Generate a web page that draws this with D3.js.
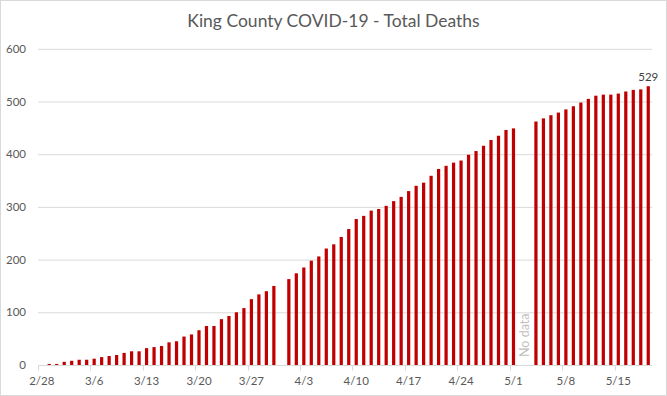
<!DOCTYPE html>
<html>
<head>
<meta charset="utf-8">
<script src="https://cdn.jsdelivr.net/npm/d3@7"></script>
<style>
  body { margin: 0; background: #fff; }
  svg { display: block; font-family: Lato, "Open Sans", sans-serif; }
</style>
</head>
<body>
<svg width="667" height="396"></svg>
<script>
// one bar per day, 2/28 .. 5/19 (2020)
var days = d3.timeDay.range(new Date(2020, 1, 28), new Date(2020, 4, 20));

// total deaths (null = no bar)
var deaths = [
  0, 2, 2, 6, 8, 10, 10, 12, 15, 17,
  19, 23, 26, 26, 32, 34, 36, 43, 45, 54,
  58, 66, 74, 74, 87, 93, 100, 108, 125, 134,
  140, 150, null, 163, 174, 185, 198, 206, 221, 229,
  243, 258, 277, 283, 293, 296, 302, 311, 319, 330,
  340, 346, 359, 372, 378, 384, 388, 399, 406, 416,
  427, 435, 446, 449, null, null, 462, 468, 474, 479,
  485, 491, 498, 505, 511, 513, 513, 515, 519, 522,
  523, 529
];

var tickLabels = ["2/28", "3/6", "3/13", "3/20", "3/27", "4/3", "4/10", "4/17", "4/24", "5/1", "5/8", "5/15"];
var yTicks = [0, 100, 200, 300, 400, 500, 600];

var fmt = d3.timeFormat("%-m/%-d");
var data = days.map(function(d, i) { return { key: fmt(d), value: deaths[i] }; });

var svg = d3.select("svg");
var grey = "#595959";
var pad = 0.57; // gap between bars

// chart border
svg.append("rect")
   .attr("x", 0.5).attr("y", 0.5)
   .attr("width", 666).attr("height", 395)
   .attr("fill", "#fff")
   .attr("stroke", "#d9d9d9");

svg.append("text")
   .attr("x", 333.5)
   .attr("y", 27)
   .attr("text-anchor", "middle")
   .attr("font-size", "17.5px")
   .attr("fill", grey)
   .text("King County COVID-19 - Total Deaths");

var xScale = d3.scaleBand().domain(data.map(function(d) { return d.key; })).range([38, 652]).paddingInner(pad).paddingOuter(pad / 2),
    yScale = d3.scaleLinear().domain([0, 600]).range([365, 48.8]);

// gridlines + y labels
svg.append("g")
   .attr("transform", "translate(38,0)")
   .call(d3.axisLeft(yScale).tickValues(yTicks).tickSize(-614).tickPadding(12))
   .call(function(g) {
       g.select(".domain").remove();
       g.selectAll(".tick line").attr("stroke", "#d9d9d9").filter(function(d) { return d === 0; }).remove();
       g.selectAll(".tick text").attr("fill", grey).attr("font-size", "11.5px").attr("font-family", "Lato, sans-serif");
   });

var step = xScale.step();

// x axis line and tick marks at the start of every 7th day
var xAxis = svg.append("g");
xAxis.append("line")
     .attr("x1", 38).attr("x2", 652)
     .attr("y1", 365.5).attr("y2", 365.5)
     .attr("stroke", "#d9d9d9");
xAxis.selectAll(".tk")
     .data(tickLabels)
     .enter().append("line")
     .attr("class", "tk")
     .attr("x1", function(d) { return Math.round(xScale(d) - step * pad / 2) + 0.5; })
     .attr("x2", function(d) { return Math.round(xScale(d) - step * pad / 2) + 0.5; })
     .attr("y1", 365.5).attr("y2", 370.5)
     .attr("stroke", "#d9d9d9");
xAxis.selectAll(".lbl")
     .data(tickLabels)
     .enter().append("text")
     .attr("class", "lbl")
     .attr("x", function(d) { return xScale(d) + xScale.bandwidth() / 2; })
     .attr("y", 385)
     .attr("text-anchor", "middle")
     .attr("font-size", "11.5px")
     .attr("fill", grey)
     .text(function(d) { return d; });

// bars
svg.selectAll(".bar")
   .data(data.filter(function(d) { return d.value != null; }))
   .enter().append("rect")
   .attr("class", "bar")
   .attr("x", function(d) { return xScale(d.key); })
   .attr("y", function(d) { return yScale(d.value); })
   .attr("width", xScale.bandwidth())
   .attr("height", function(d) { return yScale(0) - yScale(d.value); })
   .attr("fill", "#c00000");

// label on last bar
var last = data[data.length - 1];
svg.append("text")
   .attr("x", xScale(last.key) + xScale.bandwidth() / 2)
   .attr("y", yScale(last.value) - 5)
   .attr("text-anchor", "middle")
   .attr("font-size", "11.5px")
   .attr("fill", "#404040")
   .text(last.value);

// "No data" note in the 5/2 - 5/3 gap
var gx = (xScale("5/2") + xScale("5/3") + xScale.bandwidth()) / 2;
svg.append("text")
   .attr("transform", "translate(" + (gx + 4) + "," + 357 + ") rotate(-90)")
   .attr("font-size", "12.5px")
   .attr("fill", "#bfbfbf")
   .text("No data");
</script>
</body>
</html>
